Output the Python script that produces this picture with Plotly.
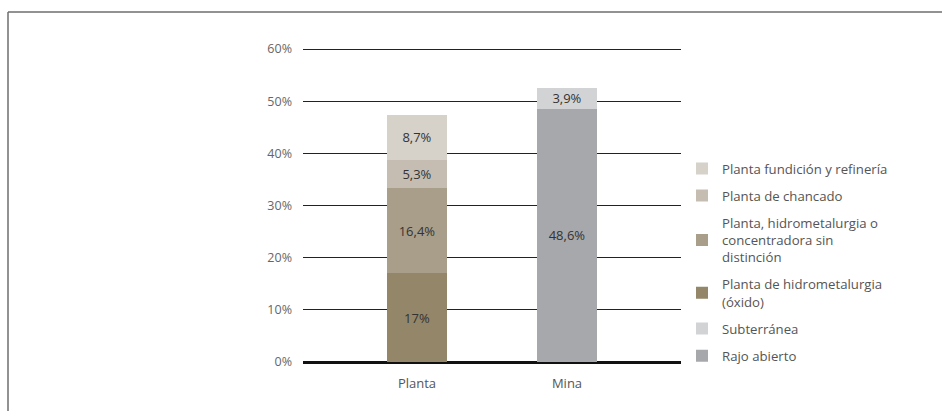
import plotly.graph_objects as go

# Categories on the x axis
categories = ["Planta", "Mina"]

# Series (bottom of stack first), values in percent
series_names = [
    "Rajo abierto",
    "Subterránea",
    "Planta de hidrometalurgia<br>(óxido)",
    "Planta, hidrometalurgia o<br>concentradora sin<br>distinción",
    "Planta de chancado",
    "Planta fundición y refinería",
]
series_values = [
    [None, 48.6],
    [None, 3.9],
    [17.0, None],
    [16.4, None],
    [5.3, None],
    [8.7, None],
]
series_colors = ["#a7a8ab", "#d2d3d5", "#948669", "#a89e8a", "#c5bdb2", "#d6d1c9"]

y_ticks = [0, 10, 20, 30, 40, 50, 60]
y_tick_labels = [f"{v}%" for v in y_ticks]

FONT = "Open Sans"


def fmt(v):
    if v is None:
        return ""
    return f"{v:g}".replace(".", ",") + "%"


fig = go.Figure()
n = len(series_names)
for i, (name, vals, col) in enumerate(zip(series_names, series_values, series_colors)):
    fig.add_trace(go.Bar(
        x=categories,
        y=vals,
        name=name,
        marker=dict(color=col, line=dict(width=0)),
        text=[fmt(v) for v in vals],
        textposition="inside",
        insidetextanchor="middle",
        constraintext="none",
        cliponaxis=False,
        textfont=dict(family=FONT, size=13, color="#333333"),
        width=0.4,
        legendgroup=f"g{i}",
        legendrank=n - i,
        hoverinfo="skip",
    ))

# Frame lines along the top and left edges of the page
px_l, px_r, px_t, px_b = 303, 681, 49, 362


def xp(px):
    return (px - px_l) / (px_r - px_l)


def yp(py):
    return (px_b - py) / (px_b - px_t)


fig.add_shape(type="line", xref="paper", yref="paper",
              x0=xp(8), x1=xp(942), y0=yp(13), y1=yp(13),
              line=dict(color="#6e6e6e", width=1.5))
fig.add_shape(type="line", xref="paper", yref="paper",
              x0=xp(8), x1=xp(8), y0=yp(13), y1=yp(411),
              line=dict(color="#6e6e6e", width=1.5))

fig.update_layout(
    width=942,
    height=411,
    barmode="stack",
    paper_bgcolor="white",
    plot_bgcolor="white",
    margin=dict(l=px_l, r=942 - px_r, t=px_t - 1, b=411 - px_b),
    font=dict(family=FONT, size=12, color="#555555"),
    showlegend=True,
    legend=dict(
        x=xp(682), xanchor="left",
        y=yp(154), yanchor="top",
        traceorder="grouped",
        tracegroupgap=7,
        font=dict(family=FONT, size=13.2, color="#555555"),
        bgcolor="rgba(0,0,0,0)",
        itemclick=False,
    ),
    xaxis=dict(
        range=[-0.76, 1.76],
        showgrid=False,
        showline=False,
        ticks="",
        ticklabelstandoff=12,
        tickfont=dict(family=FONT, size=13, color="#555555"),
        fixedrange=True,
    ),
    yaxis=dict(
        range=[0, 60.2],
        tickvals=y_ticks,
        ticktext=y_tick_labels,
        showgrid=True,
        gridcolor="#222222",
        gridwidth=1,
        zeroline=True,
        zerolinecolor="#111111",
        zerolinewidth=3,
        showline=False,
        ticks="",
        ticklabelstandoff=10,
        tickfont=dict(family=FONT, size=12.5, color="#666666"),
        fixedrange=True,
    ),
)

fig.write_html("out.html", config={"displayModeBar": False})
